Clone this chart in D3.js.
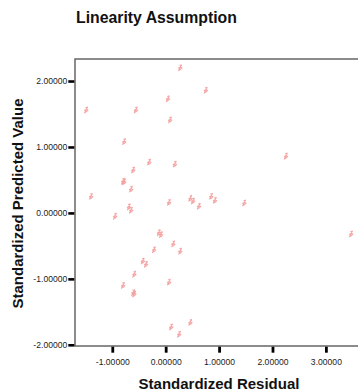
<!DOCTYPE html>
<html>
<head>
<meta charset="utf-8">
<script src="https://cdn.jsdelivr.net/npm/d3@7"></script>
<style>
  body { margin: 0; background: #fff; }
  svg { display: block; font-family: Arial, "Liberation Sans", sans-serif; }
  .tickLbl text { font-size: 8.6px; fill: #222; }
</style>
</head>
<body>
<div id="chart"></div>
<script>
// standardized residual (x) / standardized predicted value (y)
const residual = [0.27, 0.75, 0.04, -1.49, -0.56, 0.08, -0.78, -0.31, 0.17, -0.61,
  -0.78, -0.80, -0.65, -1.40, 0.06, -0.69, -0.65, -0.95, 0.46, 0.51,
  0.62, 0.85, 0.92, 1.47, 2.25, 3.47, -0.13, -0.09, 0.14, -0.22,
  0.27, -0.43, -0.37, -0.59, -0.80, -0.61, -0.59, 0.06, 0.10, 0.25, 0.46];
const predicted = [2.20, 1.86, 1.73, 1.56, 1.56, 1.41, 1.08, 0.77, 0.74, 0.65,
  0.47, 0.48, 0.36, 0.25, 0.16, 0.09, 0.04, -0.05, 0.22, 0.18,
  0.10, 0.25, 0.19, 0.15, 0.86, -0.32, -0.30, -0.33, -0.47, -0.56,
  -0.58, -0.73, -0.78, -0.93, -1.10, -1.21, -1.23, -1.05, -1.73, -1.84, -1.66];
const xTicks = [-1, 0, 1, 2, 3];
const yTicks = [-2, -1, 0, 1, 2];

const width = 358, height = 391;
const plotLeft = 75, plotTop = 59, plotBottom = 346, plotRight = 359;

const svg = d3.select('#chart')
  .append('svg')
    .attr('width', width)
    .attr('height', height);

const x = d3.scaleLinear()
  .domain([-1.698, 3.620])
  .range([plotLeft, plotRight]);

const y = d3.scaleLinear()
  .domain([2.334, -2.018])
  .range([plotTop, plotBottom]);

const fmt = d => d.toFixed(5);

// title
svg.append('text')
  .attr('x', 76)
  .attr('y', 23)
  .attr('font-size', '15.8px')
  .attr('font-weight', 'bold')
  .attr('fill', '#111')
  .text('Linearity Assumption');

// frame (right edge falls outside the window)
svg.append('rect')
  .attr('x', plotLeft)
  .attr('y', plotTop)
  .attr('width', plotRight + 4 - plotLeft)
  .attr('height', plotBottom - plotTop)
  .attr('fill', 'none')
  .attr('stroke', '#666')
  .attr('stroke-width', 1.5);

// points
const pts = residual.map((r, i) => ({ r: r, p: predicted[i] }));
svg.append('g')
  .selectAll('path.pt')
  .data(pts)
  .enter()
  .append('path')
    .attr('class', 'pt')
    .attr('transform', d => 'translate(' + x(d.r) + ',' + y(d.p) + ')')
    .attr('d', 'M-1.6,3.2 L1.4,-3.4 M-1.8,0.6 Q0.2,-1.2 1.8,0.2 Q0.4,2.2 -1.6,2.6 M-0.6,-2.6 L1.8,-2.2')
    .attr('fill', 'none')
    .attr('stroke', '#f49a9a')
    .attr('stroke-width', 1.1)
    .attr('opacity', 0.9);

// y axis
const yAxis = d3.axisLeft(y)
  .tickValues(yTicks)
  .tickSize(6)
  .tickPadding(1)
  .tickFormat(fmt);

const gy = svg.append('g')
  .attr('class', 'tickLbl')
  .attr('transform', 'translate(' + (plotLeft - 0.7) + ',0)')
  .call(yAxis);
gy.select('.domain').remove();
gy.selectAll('line').attr('stroke', '#000').attr('stroke-width', 2.6);

// x axis
const xAxis = d3.axisBottom(x)
  .tickValues(xTicks)
  .tickSize(6)
  .tickPadding(6)
  .tickFormat(fmt);

const gx = svg.append('g')
  .attr('class', 'tickLbl')
  .attr('transform', 'translate(0,' + (plotBottom + 0.7) + ')')
  .call(xAxis);
gx.select('.domain').remove();
gx.selectAll('line').attr('stroke', '#000').attr('stroke-width', 2.8);

// axis titles
svg.append('text')
  .attr('x', 219)
  .attr('y', 389)
  .attr('text-anchor', 'middle')
  .attr('font-size', '15px')
  .attr('font-weight', 'bold')
  .attr('fill', '#111')
  .text('Standardized Residual');

svg.append('text')
  .attr('transform', 'translate(23,203.5) rotate(-90)')
  .attr('text-anchor', 'middle')
  .attr('font-size', '15px')
  .attr('font-weight', 'bold')
  .attr('fill', '#111')
  .text('Standardized Predicted Value');
</script>
</body>
</html>
